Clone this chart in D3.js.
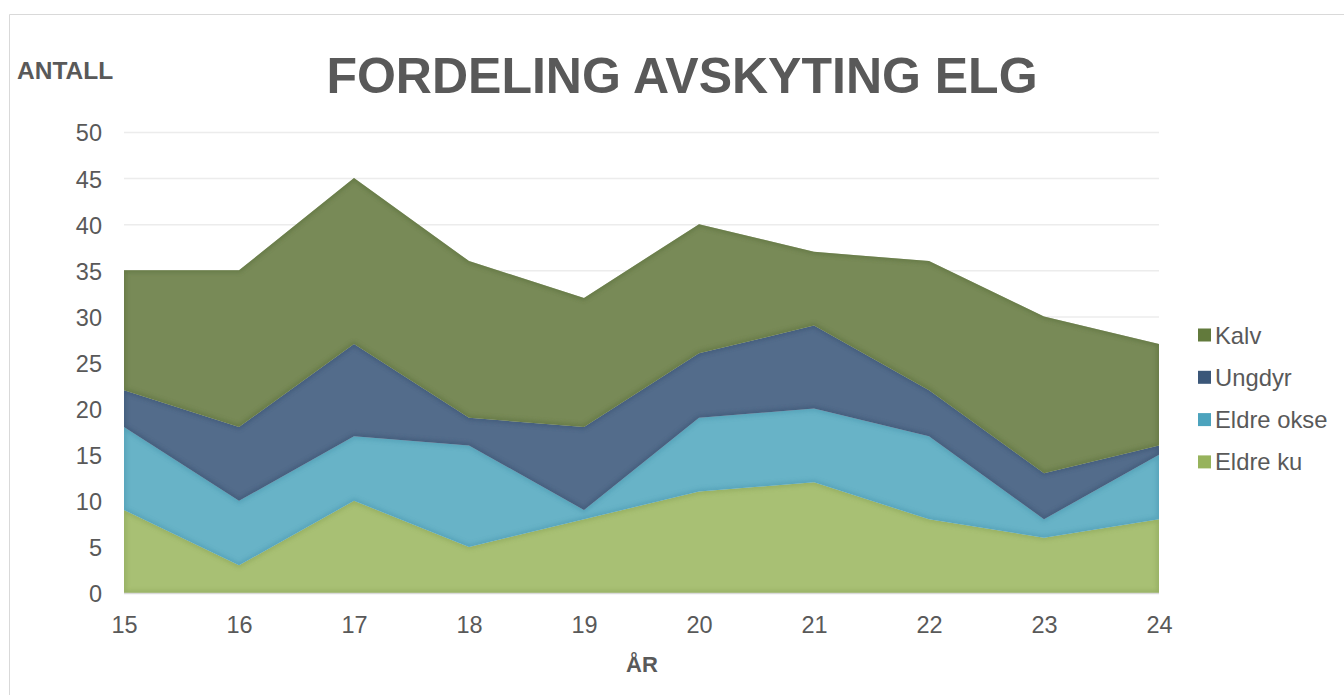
<!DOCTYPE html>
<html><head><meta charset="utf-8">
<script src="https://cdn.jsdelivr.net/npm/d3@7"></script>
<style>body{margin:0;background:#fff}svg{display:block}text{font-family:"Liberation Sans",Arial,sans-serif}</style>
</head><body><svg id="c" width="1344" height="695"></svg>
<script>
const years = ["15","16","17","18","19","20","21","22","23","24"];
const seriesNames = ["Eldre ku","Eldre okse","Ungdyr","Kalv"];
const eldreKu   = [9,3,10,5,8,11,12,8,6,8];
const eldreOkse = [9,7,7,11,1,8,8,9,2,7];
const ungdyr    = [4,8,10,3,9,7,9,5,5,1];
const kalv      = [13,17,18,17,14,14,8,14,17,11];
const yTicks = [0,5,10,15,20,25,30,35,40,45,50];
const areaColors = {"Eldre ku":"#a8c074","Eldre okse":"#68b3c7","Ungdyr":"#536c8b","Kalv":"#788a57"};
const edgeColors = {"Eldre ku":"#8fa85c","Eldre okse":"#4f9cb3","Ungdyr":"#3e5676","Kalv":"#5f7340"};
const legendColors = {"Eldre ku":"#97b35c","Eldre okse":"#4ca3bd","Ungdyr":"#3b5779","Kalv":"#627a3c"};
const legendOrder = ["Kalv","Ungdyr","Eldre okse","Eldre ku"];

const table = years.map((y,i)=>({year:y,"Eldre ku":eldreKu[i],"Eldre okse":eldreOkse[i],"Ungdyr":ungdyr[i],"Kalv":kalv[i]}));
const stacked = d3.stack().keys(seriesNames)(table);

const svg = d3.select("#c");
svg.append("path").attr("d","M9.5,695 V14.5 H1344").attr("fill","none").attr("stroke","#d9d9d9").attr("stroke-width",1);

const x = d3.scalePoint().domain(years).range([124,1159]);
const y = d3.scaleLinear().domain([0,50]).range([593,132]);

svg.append("g").selectAll("line").data(yTicks.filter(t=>t>0)).join("line")
  .attr("x1",124).attr("x2",1159).attr("y1",d=>y(d)+0.5).attr("y2",d=>y(d)+0.5)
  .attr("stroke","#ececec").attr("stroke-width",1.5);

const defs = svg.append("defs");
const area = d3.area().x(d=>x(d.data.year)).y0(d=>y(d[0])).y1(d=>y(d[1]));
stacked.forEach((s,i)=>{
  defs.append("clipPath").attr("id","clip"+i).append("path").attr("d",area(s));
});
const flt = defs.append("filter").attr("id","blur").attr("x","-5%").attr("y","-5%").attr("width","110%").attr("height","110%");
flt.append("feGaussianBlur").attr("stdDeviation",2);

const g = svg.append("g");
stacked.forEach((s,i)=>{
  g.append("path").attr("d",area(s)).attr("fill",areaColors[s.key]);
  g.append("path").attr("d",area(s)).attr("fill","none").attr("stroke",edgeColors[s.key])
    .attr("stroke-width",4).attr("filter","url(#blur)").attr("clip-path","url(#clip"+i+")").attr("opacity",0.8);
});

svg.append("line").attr("x1",124).attr("x2",1159).attr("y1",593.5).attr("y2",593.5).attr("stroke","#d9d9d9").attr("stroke-width",1.5);

const yAxis = d3.axisLeft(y).tickValues(yTicks).tickSize(0).tickPadding(0);
const ya = svg.append("g").attr("transform","translate(102,0)").call(yAxis);
ya.select(".domain").remove();
ya.selectAll("text").attr("font-size",23.5).attr("fill","#595959").attr("font-family","Liberation Sans, Arial, sans-serif").attr("dy","0.38em");

const xAxis = d3.axisBottom(x).tickSize(0).tickPadding(0);
const xa = svg.append("g").attr("transform","translate(0,633)").call(xAxis);
xa.select(".domain").remove();
xa.selectAll("text").attr("font-size",23.5).attr("fill","#595959").attr("font-family","Liberation Sans, Arial, sans-serif").attr("y",0).attr("dy","0");

svg.append("text").attr("x",682).attr("y",93).attr("text-anchor","middle").attr("font-size",50).attr("font-weight","bold").attr("fill","#595959").text("FORDELING AVSKYTING ELG");
svg.append("text").attr("x",17).attr("y",79).attr("font-size",24.5).attr("font-weight","bold").attr("fill","#595959").text("ANTALL");
svg.append("text").attr("x",642).attr("y",672).attr("text-anchor","middle").attr("font-size",22).attr("font-weight","bold").attr("fill","#595959").text("ÅR");

const lg = svg.append("g").selectAll("g").data(legendOrder).join("g")
  .attr("transform",(d,i)=>`translate(1198,${335+i*42.3})`);
lg.append("rect").attr("x",0).attr("y",-6.5).attr("width",13).attr("height",13).attr("fill",d=>legendColors[d]);
lg.append("text").attr("x",17).attr("y",0).attr("dy","0.36em").attr("font-size",23.8).attr("fill","#595959").text(d=>d);
</script></body></html>
